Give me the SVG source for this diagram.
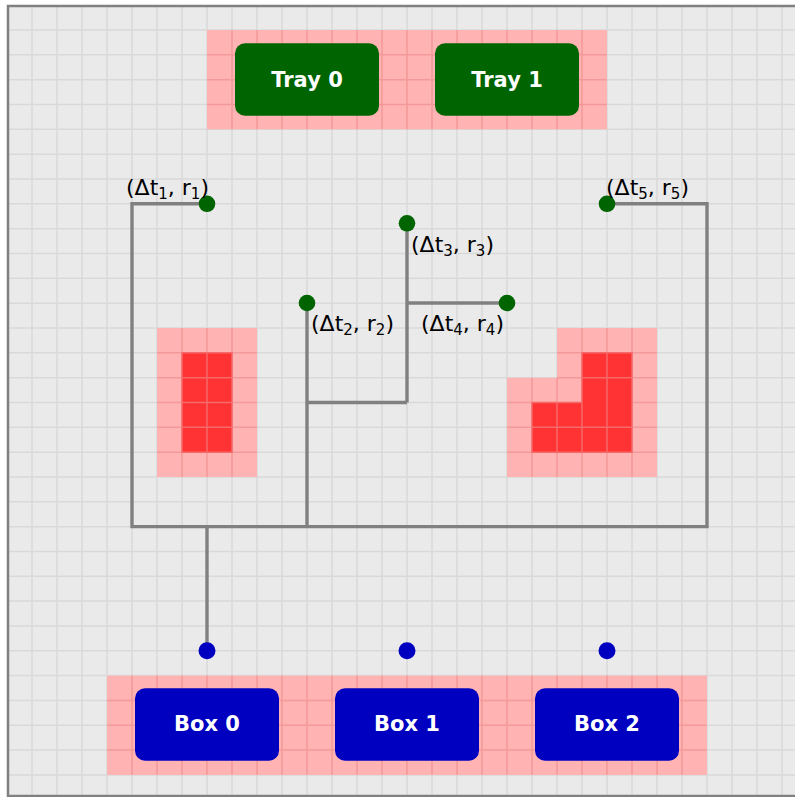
<svg xmlns="http://www.w3.org/2000/svg" width="795" height="797" viewBox="0 0 795 797">
  <defs>
    <style>
      .grid { fill: none; stroke: #d9d9d9; stroke-width: 1.5; }
      .pink { fill: #ffb3b3; }
      .pinkgrid { fill: none; stroke: #f39999; stroke-width: 1.5; }
      .red { fill: #ff3333; }
      .redgrid { fill: none; stroke: #f56a6a; stroke-width: 1.5; }
      .wire { fill: none; stroke: #808080; stroke-width: 3.4; stroke-linejoin: miter; }
      .tray rect { fill: #006400; }
      .box rect { fill: #0000c0; }
      .node text { font-family: "DejaVu Sans", "Liberation Sans", sans-serif; font-weight: bold; font-size: 21px; fill: #ffffff; text-anchor: middle; }
      .dot-g { fill: #006400; }
      .dot-b { fill: #0000c0; }
      .lbl { font-family: "DejaVu Sans", "Liberation Sans", sans-serif; font-size: 22px; fill: #000000; }
      .sub { font-size: 15px; }
    </style>
  </defs>

  <rect x="0" y="0" width="795" height="797" fill="#ffffff"/>
  <rect x="7" y="5.2" width="800" height="795" fill="#eaeaea"/>

  <!-- grid in cell units: 25 px wide, 24.83 px tall -->
  <g transform="translate(7,5.2) scale(25,24.83)">
    <path class="grid" vector-effect="non-scaling-stroke" d="M1 0V32M2 0V32M3 0V32M4 0V32M5 0V32M6 0V32M7 0V32M8 0V32M9 0V32M10 0V32M11 0V32M12 0V32M13 0V32M14 0V32M15 0V32M16 0V32M17 0V32M18 0V32M19 0V32M20 0V32M21 0V32M22 0V32M23 0V32M24 0V32M25 0V32M26 0V32M27 0V32M28 0V32M29 0V32M30 0V32M31 0V32M0 1H32M0 2H32M0 3H32M0 4H32M0 5H32M0 6H32M0 7H32M0 8H32M0 9H32M0 10H32M0 11H32M0 12H32M0 13H32M0 14H32M0 15H32M0 16H32M0 17H32M0 18H32M0 19H32M0 20H32M0 21H32M0 22H32M0 23H32M0 24H32M0 25H32M0 26H32M0 27H32M0 28H32M0 29H32M0 30H32M0 31H32"/>

    <!-- tray zone -->
    <rect class="pink" x="8" y="1" width="16" height="4"/>
    <path class="pinkgrid" vector-effect="non-scaling-stroke" d="M9 1V5M10 1V5M11 1V5M12 1V5M13 1V5M14 1V5M15 1V5M16 1V5M17 1V5M18 1V5M19 1V5M20 1V5M21 1V5M22 1V5M23 1V5M8 2H24M8 3H24M8 4H24"/>

    <!-- box zone -->
    <rect class="pink" x="4" y="27" width="24" height="4"/>
    <path class="pinkgrid" vector-effect="non-scaling-stroke" d="M5 27V31M6 27V31M7 27V31M8 27V31M9 27V31M10 27V31M11 27V31M12 27V31M13 27V31M14 27V31M15 27V31M16 27V31M17 27V31M18 27V31M19 27V31M20 27V31M21 27V31M22 27V31M23 27V31M24 27V31M25 27V31M26 27V31M27 27V31M4 28H28M4 29H28M4 30H28"/>

    <!-- left obstacle -->
    <rect class="pink" x="6" y="13" width="4" height="6"/>
    <path class="pinkgrid" vector-effect="non-scaling-stroke" d="M7 13V19M8 13V19M9 13V19M6 14H10M6 15H10M6 16H10M6 17H10M6 18H10"/>
    <rect class="red" x="7" y="14" width="2" height="4"/>
    <path class="redgrid" vector-effect="non-scaling-stroke" d="M7 14H9V18H7ZM8 14V18M7 15H9M7 16H9M7 17H9"/>

    <!-- right obstacle -->
    <polygon class="pink" points="22,13 26,13 26,19 20,19 20,15 22,15"/>
    <path class="pinkgrid" vector-effect="non-scaling-stroke" d="M23 13V19M24 13V19M25 13V19M22 15V19M21 15V19M22 14H26M20 16H26M20 17H26M20 18H26M22 15H26"/>
    <polygon class="red" points="23,14 25,14 25,18 21,18 21,16 23,16"/>
    <path class="redgrid" vector-effect="non-scaling-stroke" d="M23 14H25V18H21V16H23ZM24 14V18M23 15H25M23 16V18M22 16V18M21 17H25"/>
  </g>

  <!-- frame -->
  <rect x="8" y="6" width="800" height="790" fill="none" stroke="#808080" stroke-width="2.5"/>

  <!-- connectors -->
  <g id="connectors">
    <path class="wire" d="M207 203.8H132V526.6H707V203.8H607"/>
    <path class="wire" d="M307 303V526.6"/>
    <path class="wire" d="M307 402.5H407"/>
    <path class="wire" d="M407 223.3V402.5"/>
    <path class="wire" d="M407 303H507"/>
    <path class="wire" d="M207 526.6V650.8"/>
  </g>

  <!-- trays -->
  <g id="tray0" class="node tray">
    <rect x="235" y="43.3" width="144" height="72.4" rx="10"/>
    <text x="307" y="86.5">Tray 0</text>
  </g>
  <g id="tray1" class="node tray">
    <rect x="435" y="43.3" width="144" height="72.4" rx="10"/>
    <text x="507" y="86.5">Tray 1</text>
  </g>

  <!-- boxes -->
  <g id="box0" class="node box">
    <rect x="135" y="688.3" width="144" height="72.4" rx="10"/>
    <text x="207" y="731">Box 0</text>
  </g>
  <g id="box1" class="node box">
    <rect x="335" y="688.3" width="144" height="72.4" rx="10"/>
    <text x="407" y="731">Box 1</text>
  </g>
  <g id="box2" class="node box">
    <rect x="535" y="688.3" width="144" height="72.4" rx="10"/>
    <text x="607" y="731">Box 2</text>
  </g>

  <!-- waypoints -->
  <g id="wp1">
    <circle class="dot-g" cx="207" cy="203.8" r="8.3"/>
    <text class="lbl" x="209" y="195" text-anchor="end">(Δt<tspan class="sub" dy="4">1</tspan><tspan dy="-4">, r</tspan><tspan class="sub" dy="4">1</tspan><tspan dy="-4">)</tspan></text>
  </g>
  <g id="wp2">
    <circle class="dot-g" cx="307" cy="303" r="8.3"/>
    <text class="lbl" x="311" y="330.5">(Δt<tspan class="sub" dy="4">2</tspan><tspan dy="-4">, r</tspan><tspan class="sub" dy="4">2</tspan><tspan dy="-4">)</tspan></text>
  </g>
  <g id="wp3">
    <circle class="dot-g" cx="407" cy="223.3" r="8.3"/>
    <text class="lbl" x="411" y="252">(Δt<tspan class="sub" dy="4">3</tspan><tspan dy="-4">, r</tspan><tspan class="sub" dy="4">3</tspan><tspan dy="-4">)</tspan></text>
  </g>
  <g id="wp4">
    <circle class="dot-g" cx="507" cy="303" r="8.3"/>
    <text class="lbl" x="504" y="330.5" text-anchor="end">(Δt<tspan class="sub" dy="4">4</tspan><tspan dy="-4">, r</tspan><tspan class="sub" dy="4">4</tspan><tspan dy="-4">)</tspan></text>
  </g>
  <g id="wp5">
    <circle class="dot-g" cx="607" cy="203.8" r="8.3"/>
    <text class="lbl" x="606" y="195">(Δt<tspan class="sub" dy="4">5</tspan><tspan dy="-4">, r</tspan><tspan class="sub" dy="4">5</tspan><tspan dy="-4">)</tspan></text>
  </g>

  <!-- drop points -->
  <g id="drops">
    <circle class="dot-b" cx="207" cy="650.8" r="8.5"/>
    <circle class="dot-b" cx="407" cy="650.8" r="8.5"/>
    <circle class="dot-b" cx="607" cy="650.8" r="8.5"/>
  </g>
</svg>
